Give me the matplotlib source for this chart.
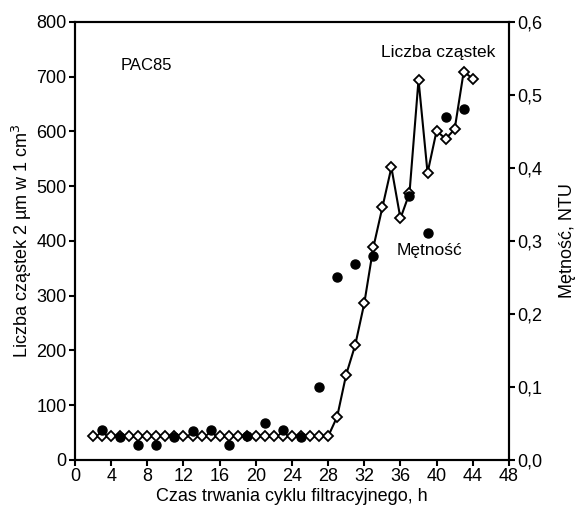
import matplotlib
matplotlib.use("Agg")
import matplotlib.pyplot as plt
import matplotlib.ticker as mticker

plt.rcParams['font.family'] = ['Liberation Sans', 'DejaVu Sans']

# particle count (diamonds), left axis
czas_czastki = list(range(2, 45))
liczba_czastek = [43] * 27 + [79, 156, 210, 286, 388, 461, 534, 441, 487, 694,
                              524, 601, 586, 604, 709, 696]

# turbidity (dots), right axis
czas_metnosc = [3, 5, 7, 9, 11, 13, 15, 17, 19, 21, 23, 25, 27, 29, 31, 33,
                37, 39, 41, 43]
metnosc = [0.041, 0.032, 0.021, 0.021, 0.032, 0.040, 0.041, 0.021, 0.033,
           0.050, 0.041, 0.032, 0.100, 0.250, 0.269, 0.279, 0.361, 0.311,
           0.469, 0.480]

x_ticks = list(range(0, 49, 4))
y_ticks = list(range(0, 801, 100))
y2_ticks = [0.0, 0.1, 0.2, 0.3, 0.4, 0.5, 0.6]

fig = plt.figure(figsize=(5.77, 5.09), dpi=100)
ax = fig.add_axes([0.130, 0.0963, 0.752, 0.861])
ax2 = ax.twinx()

ax.plot(czas_czastki, liczba_czastek, color='black', lw=1.5, marker='D',
        markersize=5, markerfacecolor='white', markeredgecolor='black',
        markeredgewidth=1.3, zorder=2)
ax2.plot(czas_metnosc, metnosc, 'o', color='black', markersize=6.5, zorder=3)

ax.set_xlim(0, 48)
ax.set_ylim(0, 800)
ax2.set_ylim(0, 0.6)
ax.set_xticks(x_ticks)
ax.set_yticks(y_ticks)
ax2.set_yticks(y2_ticks)
ax2.yaxis.set_major_formatter(mticker.FuncFormatter(lambda v, p: f"{v:.1f}".replace('.', ',')))

for a in (ax, ax2):
    for s in a.spines.values():
        s.set_linewidth(1.5)
    a.tick_params(direction='out', length=4, width=1.5, labelsize=13, pad=2)

ax.set_ylabel('Liczba cząstek 2 µm w 1 cm$^3$', fontsize=13, labelpad=2)
ax2.set_ylabel('Mętność, NTU', fontsize=13, labelpad=12)
ax.set_xlabel('Czas trwania cyklu filtracyjnego, h', fontsize=13, labelpad=2)

# annotations
fig.text(146 / 577, 1 - 66 / 509, 'PAC85', ha='center', va='center', fontsize=12)
fig.text(438 / 577, 1 - 52 / 509, 'Liczba cząstek', ha='center', va='center', fontsize=12.5)
fig.text(429 / 577, 1 - 250 / 509, 'Mętność', ha='center', va='center', fontsize=12.5)

fig.savefig('out.png', dpi=100)
